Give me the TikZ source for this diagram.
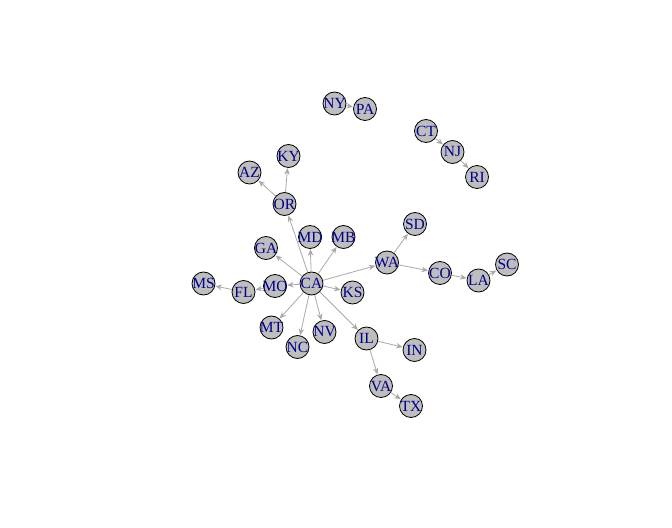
\documentclass[tikz,border=0pt]{standalone}
\usepackage{fontspec}
\setmainfont{Liberation Serif}
\usetikzlibrary{arrows.meta}
\definecolor{vgrey}{HTML}{BEBEBE}
\definecolor{egrey}{HTML}{A9A9A9}
\definecolor{lblue}{HTML}{00008B}
\newcommand{\lbl}[1]{\makebox[0pt]{#1}}
\tikzset{
  state/.style={circle, draw=black, line width=0.8bp, fill=vgrey, minimum size=23bp, inner sep=0pt,
    text=lblue, font=\fontsize{15.5bp}{15.5bp}\selectfont},
  link/.style={draw=egrey, line width=0.8bp, -{Stealth[length=6.5bp,width=5.5bp]}, shorten >=0.3bp}
}
\begin{document}
\begin{tikzpicture}[x=1bp, y=-1bp]
  % outer frame
  \useasboundingbox[fill=white] (0,0) rectangle (672,528);

  % main component, around CA
  \node (CA) at (311.5,283.5) [state] {\lbl{CA}};
  \node (OR) at (284.5,204) [state] {\lbl{OR}};
  \node (AZ) at (249.5,172.5) [state] {\lbl{AZ}};
  \node (KY) at (288.5,156) [state] {\lbl{KY}};
  \node (MD) at (310,237) [state] {\lbl{MD}};
  \node (MB) at (343.5,237) [state] {\lbl{MB}};
  \node (GA) at (266,248) [state] {\lbl{GA}};
  \node (MO) at (275,286) [state] {\lbl{MO}};
  \node (FL) at (243.5,292) [state] {\lbl{FL}};
  \node (MS) at (203.5,283.5) [state] {\lbl{MS}};
  \node (KS) at (352.5,292.5) [state] {\lbl{KS}};
  \node (MT) at (271.5,327.5) [state] {\lbl{MT}};
  \node (NC) at (297.5,347) [state] {\lbl{NC}};
  \node (NV) at (324.5,332) [state] {\lbl{NV}};
  \node (IL) at (366.5,338.5) [state] {\lbl{IL}};
  \node (IN) at (414.5,350) [state] {\lbl{IN}};
  \node (VA) at (381,386) [state] {\lbl{VA}};
  \node (TX) at (411,406) [state] {\lbl{TX}};
  \node (WA) at (387,262.5) [state] {\lbl{WA}};
  \node (SD) at (415,224) [state] {\lbl{SD}};
  \node (CO) at (440,273) [state] {\lbl{CO}};
  \node (LA) at (478.5,280.5) [state] {\lbl{LA}};
  \node (SC) at (507,264.5) [state] {\lbl{SC}};

  % two small components
  \node (NY) at (334.5,103.5) [state] {\lbl{NY}};
  \node (PA) at (365,109) [state] {\lbl{PA}};
  \node (CT) at (426,131) [state] {\lbl{CT}};
  \node (NJ) at (452.5,152) [state] {\lbl{NJ}};
  \node (RI) at (477,177) [state] {\lbl{RI}};

  % edges
  \foreach \a/\b in {CA/OR, CA/MD, CA/MB, CA/GA, CA/WA, CA/MO, CA/KS, CA/MT, CA/NC, CA/NV, CA/IL,
      OR/AZ, OR/KY, MO/FL, FL/MS, IL/IN, IL/VA, VA/TX, WA/SD, WA/CO, CO/LA, LA/SC,
      NY/PA, CT/NJ, NJ/RI}
    \draw[link] (\a) -- (\b);
\end{tikzpicture}
\end{document}
